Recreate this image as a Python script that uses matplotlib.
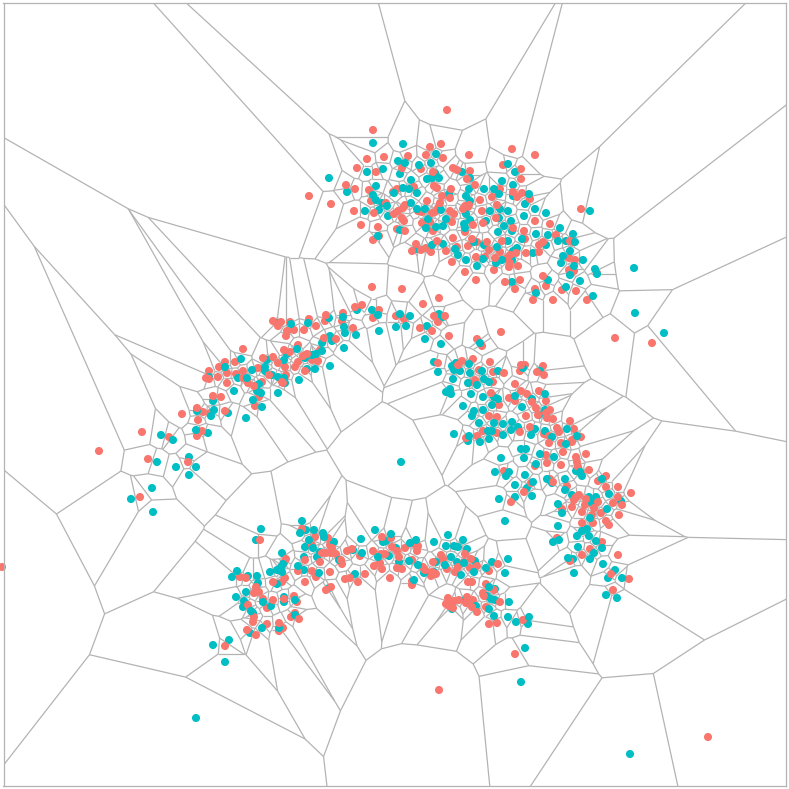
import numpy as np
import matplotlib
matplotlib.use("Agg")
import matplotlib.pyplot as plt
import matplotlib.tri as mtri
from matplotlib.collections import LineCollection

salmon = [
(447,110),(373,130),(430,147),(441,144),(426,155),(443,158),(384,157),(367,159),(408,156),(357,168),(376,172),(402,168),(421,169),(433,172),(453,168),(457,170),(346,185),(355,189),(309,196),(331,204),(369,190),(371,201),(393,192),(397,189),(414,187),(434,186),(437,188),(451,189),(442,196),(450,198),(427,201),(386,203),(354,211),(374,213),(361,225),(378,227),(405,205),(403,208),(398,211),(394,214),(402,218),(404,221),(418,211),(422,212),(440,203),(438,208),(435,212),(432,213),(422,223),(430,222),(433,231),(397,229),(405,231),(379,236),(373,240),(416,244),(412,251),(421,250),(426,248),(431,252),(437,241),(446,251),(453,238),(457,247),(452,262),(450,211),(452,222),(454,214),
(512,149),(469,155),(535,155),(503,165),(521,169),(470,171),(521,179),(467,179),(475,185),(500,189),(513,192),(522,193),(492,197),(517,197),(530,199),(480,200),(497,205),(469,205),(465,206),(463,209),(468,207),(482,211),(581,209),(496,218),(535,221),(483,223),(550,224),(473,225),(513,228),(465,232),(524,231),(556,235),(525,239),(472,239),(502,241),(487,242),(477,242),(573,242),(570,241),(468,246),(539,245),(543,242),(489,250),(500,252),(539,252),(526,253),(516,253),(510,255),(507,258),(495,258),(485,257),(476,257),(569,258),(575,260),(510,263),(509,267),(518,266),(494,270),(465,272),(569,270),(574,271),(597,273),(476,280),(543,276),(505,282),(520,280),(546,286),(535,289),(515,289),(562,290),(576,291),(533,300),(553,300),(587,300),
(372,287),(355,307),(362,305),(273,321),(281,322),(278,326),(290,322),(309,319),(326,315),(343,313),(325,321),(342,321),(373,318),(294,330),(304,330),(316,326),(287,331),(286,336),(353,328),(336,339),(324,338),(298,345),(243,349),(320,350),(284,350),(273,357),(290,352),(263,358),(307,354),(303,356),(235,362),(225,362),(219,367),(278,363),(298,362),(312,360),(318,361),(209,371),(227,373),(236,374),(243,371),(258,368),(285,367),(295,367),(206,378),(209,379),(218,377),(269,375),(286,375),(305,371),(243,378),(248,383),(227,383),(262,382),(282,382),(283,383),(254,386),(259,392),(259,397),(213,396),(221,397),(255,406),(197,408),(203,412),(225,411),(210,413),(182,414),(198,420),(202,431),(197,436),
(142,432),(169,437),(99,451),(148,459),(188,462),(140,497),
(402,289),(439,298),(423,304),(379,310),(396,316),(404,319),(434,316),(445,316),(438,322),(420,328),(432,331),(449,336),
(501,332),(477,339),(482,346),(473,359),(490,362),(462,361),(438,363),(458,365),(521,365),(525,365),(543,366),(479,370),(493,372),(504,373),(537,372),(544,375),(520,371),(469,383),(475,380),(493,382),(515,384),(521,391),(539,391),(527,394),(491,393),(509,398),(515,401),(546,401),(532,402),(499,405),(536,408),(550,410),(546,413),(538,415),(526,416),(547,418),(553,419),(489,416),(497,417),(570,421),(530,427),(557,428),(574,429),(483,431),(497,433),(520,432),(466,438),(477,436),(544,434),(559,432),(549,436),(581,437),(572,440),
(586,454),(549,443),(563,452),(561,443),(572,442),(546,455),(547,463),(576,457),(577,462),(561,465),(535,466),(578,467),(589,470),(581,473),(504,471),(606,476),(598,481),(550,479),(553,482),(531,483),(567,486),(606,487),(618,487),(524,492),(631,493),(579,495),(576,497),(574,500),(586,499),(618,497),(598,502),(585,505),(613,503),(622,505),(594,508),(572,507),(511,502),(562,509),(582,512),(601,513),(592,515),(619,515),(606,521),(582,523),(593,523),(609,525),(602,542),(557,538),(590,549),(582,555),(618,555),(570,561),(611,574),(629,579),(613,590),
(260,540),(302,529),(315,537),(328,538),(312,545),(330,545),(286,559),(284,563),(305,560),(320,562),(298,571),(312,571),(330,572),(332,548),(322,553),(326,553),(331,553),(336,554),(347,551),(352,549),(342,564),(341,560),(360,556),(345,579),(350,578),(358,582),(240,577),(246,578),(285,578),(282,582),(273,582),(316,577),(305,582),(326,590),(331,587),(256,587),(254,593),(259,592),(263,599),(273,600),(267,608),(284,599),(294,596),(297,602),(248,605),(254,617),(253,622),(291,617),(299,619),(295,613),(267,624),(279,623),(283,628),(279,631),(247,630),(256,635),(225,646),
(382,537),(391,538),(392,547),(397,551),(399,557),(414,544),(418,546),(417,551),(405,548),(373,551),(381,554),(385,554),(374,566),(380,563),(382,569),(365,574),(397,568),(402,569),(390,578),(412,560),(423,567),(425,570),(432,572),(431,576),(436,574),(433,562),(441,555),(443,559),(447,569),(455,572),(458,567),(465,554),(464,562),(471,559),(470,568),(477,566),(489,571),(498,564),(468,582),(472,582),(486,584),(494,590),(412,581),(412,585),(483,593),(484,596),(500,602),(486,607),(448,598),(450,602),(446,604),(449,606),(453,608),(454,601),(459,600),(467,597),(473,600),(466,603),(472,607),(477,612),(489,624),(497,623),(523,620),
(2,567),(439,690),(708,737),(515,654),(615,338),(652,343),
]

teal = [
(373,143),(403,144),(436,154),(398,161),(405,163),(419,165),(431,163),(367,172),(383,169),(400,174),(329,178),(411,180),(427,179),(432,178),(435,173),(439,178),(376,186),(347,192),(373,195),(376,200),(382,203),(387,206),(394,193),(403,188),(409,189),(417,193),(449,194),(411,203),(417,209),(425,209),(441,210),(379,210),(365,211),(388,216),(428,219),(446,219),(426,228),(436,227),(443,226),(400,230),(378,236),(416,249),(432,245),(443,244),(455,249),(458,255),
(508,164),(462,172),(515,172),(470,178),(502,181),(513,185),(469,189),(484,189),(494,189),(499,194),(513,196),(529,194),(466,196),(470,201),(525,204),(535,209),(590,211),(500,209),(490,211),(508,211),(546,213),(466,214),(524,216),(470,220),(499,218),(511,221),(486,221),(464,224),(504,226),(560,228),(634,268),(465,228),(512,231),(498,232),(573,234),(536,234),(548,235),(508,241),(522,239),(558,241),(566,241),(575,242),(474,242),(484,245),(546,245),(497,247),(570,251),(517,248),(513,251),(533,253),(563,256),(502,260),(483,259),(466,260),(512,260),(583,260),(496,263),(561,263),(477,266),(574,266),(595,269),(597,274),(570,275),(548,280),(580,281),(512,282),(566,287),(536,293),(593,296),(635,313),
(357,310),(372,310),(378,315),(343,317),(329,318),(308,323),(277,323),(291,324),(344,327),(345,333),(356,335),(379,331),(322,343),(330,336),(332,341),(344,348),(297,349),(241,359),(287,354),(267,360),(284,360),(316,354),(312,355),(305,358),(322,351),(225,367),(265,367),(252,370),(265,371),(330,366),(315,369),(307,369),(209,377),(238,378),(247,378),(272,375),(278,377),(284,378),(299,380),(285,383),(259,384),(234,391),(278,393),(257,391),(261,393),(253,400),(262,407),(213,401),(214,410),(197,411),(228,413),(211,416),(246,418),(196,430),(208,433),(173,440),
(161,435),(157,462),(189,457),(176,467),(196,467),(189,475),(152,488),(131,499),(153,512),
(400,314),(410,316),(439,314),(443,317),(396,327),(406,326),(427,326),(425,339),(441,344),
(480,343),(434,362),(438,372),(456,363),(452,366),(454,370),(460,371),(469,364),(482,371),(498,371),(470,373),(453,379),(484,379),(489,382),(477,385),(523,368),(540,371),(468,383),(446,392),(450,389),(451,394),(471,394),(483,397),(494,397),(498,399),(515,396),(545,394),(532,399),(492,405),(522,407),(463,406),(483,410),(474,411),(472,416),(545,410),(539,415),(479,423),(494,423),(512,422),(503,424),(518,427),(511,430),(488,431),(492,431),(535,429),(545,431),(567,429),(503,435),(454,434),(469,436),(531,435),(552,437),(577,436),(468,441),(480,442),(489,439),(566,444),
(521,449),(526,449),(524,458),(501,458),(540,454),(554,457),(536,464),(495,472),(509,472),(506,476),(525,475),(576,471),(580,472),(582,476),(547,479),(565,479),(602,479),(515,485),(552,483),(533,482),(527,488),(565,490),(532,496),(515,497),(499,499),(572,495),(589,497),(596,497),(609,494),(621,501),(592,503),(558,504),(607,509),(562,513),(590,518),(558,526),(587,529),(582,531),(577,536),(589,536),(553,542),(559,540),(596,541),(578,547),(602,548),(594,553),(568,558),(573,559),(590,559),(603,564),(574,573),(615,570),(608,578),(622,578),(606,595),(617,598),
(261,529),(256,540),(302,521),(306,530),(300,533),(314,530),(323,533),(324,537),(334,542),(309,540),(305,547),(313,548),(320,552),(317,557),(304,557),(282,553),(283,564),(281,567),(298,566),(304,570),(319,573),(270,572),(282,572),(277,570),(237,571),(232,577),(248,576),(257,576),(258,583),(277,584),(329,588),(339,560),(353,550),(355,574),(246,592),(256,591),(236,597),(244,601),(243,607),(271,606),(263,602),(284,597),(284,602),(295,600),(251,611),(253,613),(295,615),(262,628),(279,628),(250,633),(229,640),(213,645),
(505,521),(375,530),(391,534),(361,539),(383,542),(386,541),(396,548),(416,540),(410,543),(434,542),(448,535),(463,540),(446,546),(454,546),(458,547),(467,549),(362,553),(389,556),(378,557),(399,562),(409,561),(418,565),(424,573),(434,572),(436,562),(445,565),(451,557),(457,562),(464,563),(475,561),(474,572),(461,575),(492,562),(508,559),(486,568),(505,573),(414,580),(489,587),(495,589),(487,596),(491,599),(495,600),(465,600),(476,606),(489,609),(509,602),(494,616),(508,617),(516,622),(529,617),(528,624),(452,609),
(664,333),(401,462),(196,718),(521,682),(630,754),(525,648),(225,662),
]

S = np.array(salmon, dtype=float)
T = np.array(teal, dtype=float)
P = np.vstack([S, T])
COLOURS = np.array(["#F8766D"] * len(S) + ["#00BFC4"] * len(T))

GREY = "#b3b3b3"
X0, X1, Y0, Y1 = 3.5, 786.0, 2.5, 785.5
W = 789

tri = mtri.Triangulation(P[:, 0], P[:, 1])
A, B, C = (P[tri.triangles[:, k]] for k in range(3))
d = 2 * (A[:, 0] * (B[:, 1] - C[:, 1]) + B[:, 0] * (C[:, 1] - A[:, 1]) + C[:, 0] * (A[:, 1] - B[:, 1]))
a2, b2, c2 = (np.sum(Q ** 2, axis=1) for Q in (A, B, C))
cx = (a2 * (B[:, 1] - C[:, 1]) + b2 * (C[:, 1] - A[:, 1]) + c2 * (A[:, 1] - B[:, 1])) / d
cy = (a2 * (C[:, 0] - B[:, 0]) + b2 * (A[:, 0] - C[:, 0]) + c2 * (B[:, 0] - A[:, 0])) / d
centres = np.column_stack([cx, cy])

segments = []
for i, tr in enumerate(tri.triangles):
    for k in range(3):
        j = tri.neighbors[i, k]
        if j > i:
            segments.append([centres[i], centres[j]])
        elif j == -1:
            p, q = P[tr[k]], P[tr[(k + 1) % 3]]
            other = P[tr[(k + 2) % 3]]
            e = q - p
            n = np.array([e[1], -e[0]]) / np.hypot(*e)
            if np.dot(n, other - p) > 0:
                n = -n
            segments.append([centres[i], centres[i] + n * 5000])

fig = plt.figure(figsize=(W / 100, W / 100), dpi=100, facecolor="white")
ax = fig.add_axes([X0 / W, 1 - Y1 / W, (X1 - X0) / W, (Y1 - Y0) / W])
ax.set_xlim(X0, X1)
ax.set_ylim(Y1, Y0)
ax.set_xticks([])
ax.set_yticks([])
for s in ax.spines.values():
    s.set_color(GREY)
    s.set_linewidth(0.9)

ax.add_collection(LineCollection(segments, colors=GREY, linewidths=0.9, zorder=1))
# draw order mixes the two groups, as overlaps in the picture do not favour either
order = np.argsort((P[:, 0] * 7 + P[:, 1] * 13) % 11, kind="stable")
ax.scatter(P[order, 0], P[order, 1], s=34, c=COLOURS[order], linewidths=0, zorder=2, clip_on=False)

fig.savefig("out.png", dpi=100, facecolor="white")
